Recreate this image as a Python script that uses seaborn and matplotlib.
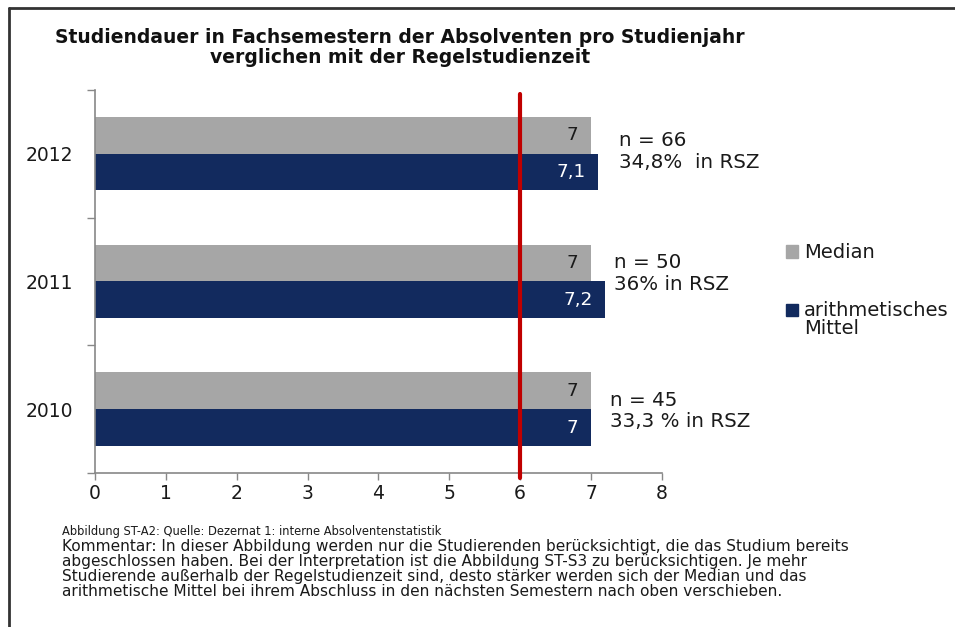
import matplotlib
matplotlib.use("Agg")
import matplotlib.pyplot as plt
import seaborn as sns
import pandas as pd
from matplotlib.lines import Line2D
from matplotlib.patches import Rectangle
from matplotlib.legend_handler import HandlerPatch

# ---- data ----
years = ["2012", "2011", "2010"]
median_vals = [7, 7, 7]
mean_vals = [7.1, 7.2, 7.0]
series_names = ["Median", "arithmetisches\nMittel"]
n_labels = ["n = 66", "n = 50", "n = 45"]
rsz_labels = ["34,8%  in RSZ", "36% in RSZ", "33,3 % in RSZ"]
regel = 6
xticks = [0, 1, 2, 3, 4, 5, 6, 7, 8]

title = ("Studiendauer in Fachsemestern der Absolventen pro Studienjahr\n"
         "verglichen mit der Regelstudienzeit")
caption_head = "Abbildung ST-A2: Quelle: Dezernat 1: interne Absolventenstatistik"
caption_lines = [
    "Kommentar: In dieser Abbildung werden nur die Studierenden berücksichtigt, die das Studium bereits",
    "abgeschlossen haben. Bei der Interpretation ist die Abbildung ST-S3 zu berücksichtigen. Je mehr",
    "Studierende außerhalb der Regelstudienzeit sind, desto stärker werden sich der Median und das",
    "arithmetische Mittel bei ihrem Abschluss in den nächsten Semestern nach oben verschieben.",
]

df = pd.DataFrame({
    "Jahr": years * 2,
    "Wert": median_vals + mean_vals,
    "Serie": [series_names[0]] * 3 + [series_names[1]] * 3,
})

grey = "#a6a6a6"
navy = "#122a5e"
red = "#c00000"
txt = "#1a1a1a"

sns.set_theme(style="white")
plt.rcParams["font.family"] = ["DejaVu Sans"]

fig = plt.figure(figsize=(9.55, 6.27), dpi=100)
ax = fig.add_axes([0.0995, 0.2456, 0.5935, 0.611])

sns.barplot(data=df, y="Jahr", x="Wert", hue="Serie", order=years,
            hue_order=series_names, palette=[grey, navy], orient="h",
            width=0.575, ax=ax, legend=False, edgecolor="none", linewidth=0,
            saturation=1)

# value labels inside bars
for cont, col in zip(ax.containers, [txt, "white"]):
    for p in cont:
        v = p.get_width()
        lab = f"{v:g}".replace(".", ",")
        ax.annotate(lab, (v, p.get_y() + p.get_height() / 2),
                    xytext=(-9, 0), textcoords="offset points",
                    ha="right", va="center", fontsize=13.3, color=col)

ax.set_xlim(0, 8)
ax.set_ylim(2.5, -0.5)
ax.set_xticks(xticks)
ax.set_xticklabels([str(t) for t in xticks], fontsize=13.5, color=txt)
ax.set_yticks(range(len(years)))
ax.set_yticklabels(years, fontsize=13.5, color=txt)
ax.tick_params(axis="y", which="major", length=0, pad=16)
ax.set_yticks([-0.5, 0.5, 1.5, 2.5], minor=True)
ax.tick_params(axis="y", which="minor", length=6, width=1, color="#888888", left=True)
ax.tick_params(axis="x", length=5, width=1, color="#888888", bottom=True, pad=3)
ax.set_xlabel("")
ax.set_ylabel("")
for s in ["top", "right"]:
    ax.spines[s].set_visible(False)
for s in ["left", "bottom"]:
    ax.spines[s].set_color("#888888")
    ax.spines[s].set_linewidth(1.2)

# Regelstudienzeit line
ax.axvline(regel, ymin=-0.012, ymax=0.99, color=red, lw=3, clip_on=False, zorder=5)

# annotations to the right of bars
ann_x = [7.39, 7.32, 7.27]
ann_dy1 = [-0.10, -0.15, -0.07]
ann_dy2 = [0.07, 0.02, 0.10]
for i, (a, b) in enumerate(zip(n_labels, rsz_labels)):
    ax.text(ann_x[i], i + ann_dy1[i], a, fontsize=14.3, color=txt, va="center", ha="left")
    ax.text(ann_x[i], i + ann_dy2[i], b, fontsize=14.3, color=txt, va="center", ha="left")


# legend: square aligned with first line of a two-line label
def square_top(legend, orig_handle, xdescent, ydescent, width, height, fontsize):
    return Rectangle((-xdescent, -ydescent + 7.5), width, height)


handles = [Rectangle((0, 0), 1, 1, color=grey), Rectangle((0, 0), 1, 1, color=navy)]
leg = fig.legend(handles, series_names, loc="upper left", bbox_to_anchor=(0.805, 0.64),
                 frameon=False, fontsize=14, handlelength=0.6, handleheight=0.6,
                 handletextpad=0.3, labelspacing=2.0,
                 handler_map={handles[1]: HandlerPatch(patch_func=square_top)})
for t in leg.get_texts():
    t.set_color(txt)
    t.set_linespacing(0.95)

fig.text(0.419, 0.955, title, ha="center", va="top", fontsize=13.5, fontweight="bold",
         color="#111111", linespacing=1.06)

fig.text(0.065, 0.153, caption_head, ha="left", va="center", fontsize=8.3, color=txt)
for k, line in enumerate(caption_lines):
    fig.text(0.065, 0.153 - (k + 1) * 0.0239, line, ha="left", va="center",
             fontsize=11.1, color=txt)

# frame lines (top and left)
fig.add_artist(Line2D([0.009, 1.0], [0.987, 0.987], color="#333333", lw=2, transform=fig.transFigure))
fig.add_artist(Line2D([0.0095, 0.0095], [0.0, 0.987], color="#333333", lw=2, transform=fig.transFigure))

fig.savefig("out.png", dpi=100)
